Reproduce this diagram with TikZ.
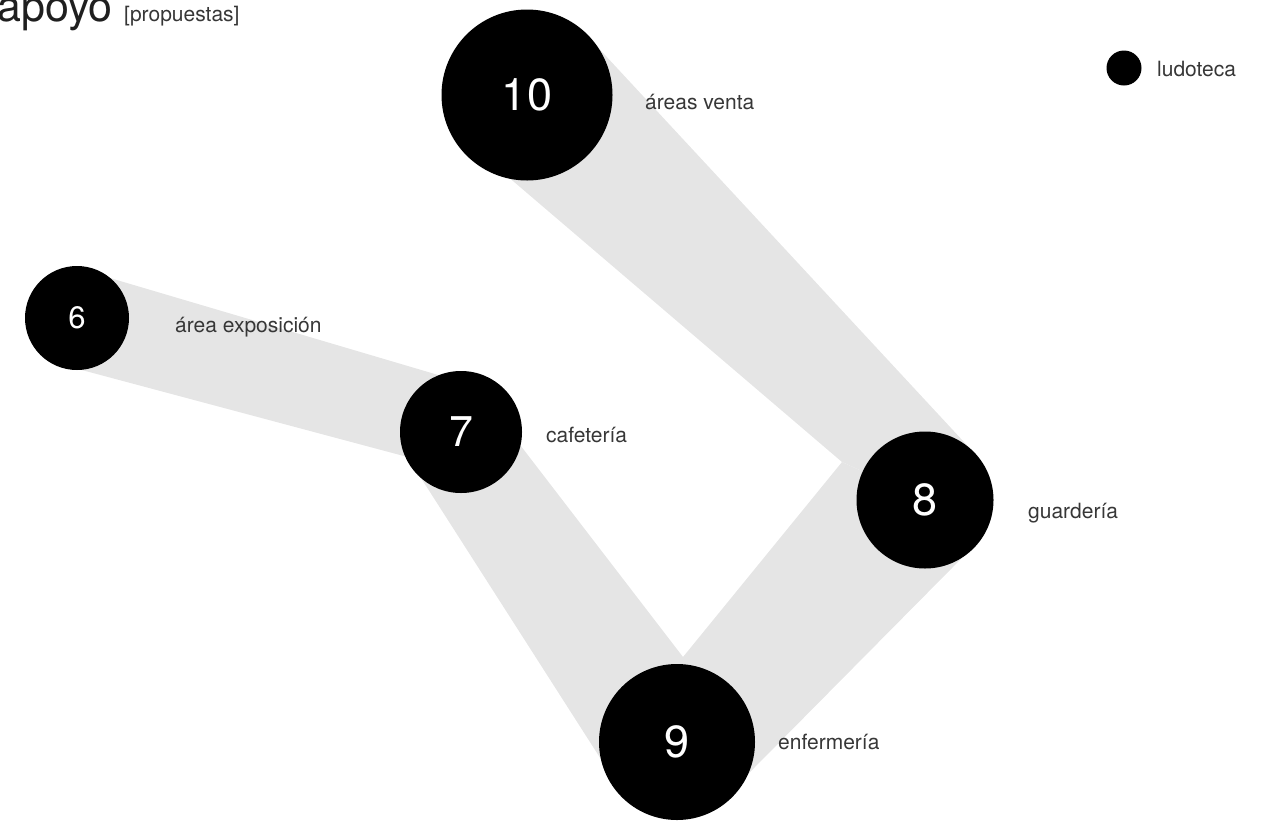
\documentclass[tikz,border=0pt]{standalone}
\usepackage{fontspec}
\setmainfont{TeX Gyre Heros}
\usetikzlibrary{calc}
\definecolor{bandgray}{RGB}{229,229,229}
\definecolor{labelgray}{RGB}{55,55,55}
\begin{document}
\begin{tikzpicture}[x=1pt,y=-1pt,
  band/.style={fill=bandgray,draw=none},
  blob/.style={circle,fill=black,draw=none,inner sep=0pt,text=white},
  lbl/.style={anchor=base west,inner sep=0pt,text=labelgray,font=\fontsize{21}{24}\selectfont}]
\useasboundingbox (0,0) rectangle (1274,820);
% centres
\coordinate (c6) at (77,318);
\coordinate (c7) at (461,432);
\coordinate (c8) at (925,500);
\coordinate (c9) at (677,742);
\coordinate (c10) at (527,95);
% band edge guides
\coordinate (u67a) at (110,278); \coordinate (u67b) at (445,377);
\coordinate (l67a) at (93,373);  \coordinate (l67b) at (400,455);
\coordinate (u108a) at (617,68); \coordinate (u108b) at (925,400);
\coordinate (l108a) at (520,187);
\coordinate (K) at (842,462);
\coordinate (A) at (683,657);
\coordinate (r89a) at (950,570); \coordinate (r89b) at (752,770);
\coordinate (l79a) at (437,503); \coordinate (l79b) at (597,753);
\coordinate (r79a) at (547,480);
% bands
\fill[band] ($(u67a)!(c6)!(u67b)$) -- ($(u67a)!(c7)!(u67b)$) -- ($(l67a)!(c7)!(l67b)$) -- ($(l67a)!(c6)!(l67b)$) -- cycle;
\fill[band] ($(u108a)!(c10)!(u108b)$) -- ($(u108a)!(c8)!(u108b)$) -- (c8) -- (K) -- ($(l108a)!(c10)!(K)$) -- cycle;
\fill[band] (K) -- ($(K)!(c9)!(A)$) -- ($(r89a)!(c9)!(r89b)$) -- ($(r89a)!(c8)!(r89b)$) -- (c8) -- cycle;
\fill[band] ($(l79a)!(c7)!(l79b)$) -- ($(l79a)!(c9)!(l79b)$) -- (c9) -- (A) -- ($(r79a)!(c7)!(A)$) -- cycle;
% circles
\node[blob,minimum size=104pt,font=\fontsize{31}{34}\selectfont] (n6) at (c6) {6};
\node[blob,minimum size=122pt,font=\fontsize{43}{46}\selectfont] (n7) at (c7) {7};
\node[blob,minimum size=137pt,font=\fontsize{45}{48}\selectfont] (n8) at (c8) {8};
\node[blob,minimum size=156pt,font=\fontsize{45}{48}\selectfont] (n9) at (c9) {9};
\node[blob,minimum size=171pt,font=\fontsize{45}{48}\selectfont] (n10) at (c10) {10};
\node[blob,minimum size=35pt] (leg) at (1124,68) {};
% labels
\node[anchor=base west,inner sep=0pt,text=black!88,font=\fontsize{43}{46}\selectfont] (title) at (-3,21) {apoyo};
\node[lbl] (sub) at (124,21) {[propuestas]};
\node[lbl] (t10) at (645,109) {áreas venta};
\node[lbl] (t6) at (175,332) {área exposición};
\node[lbl] (t7) at (546,442) {cafetería};
\node[lbl] (t8) at (1028,518) {guardería};
\node[lbl] (t9) at (778,749) {enfermería};
\node[lbl] (tleg) at (1157,76) {ludoteca};
\end{tikzpicture}
\end{document}
